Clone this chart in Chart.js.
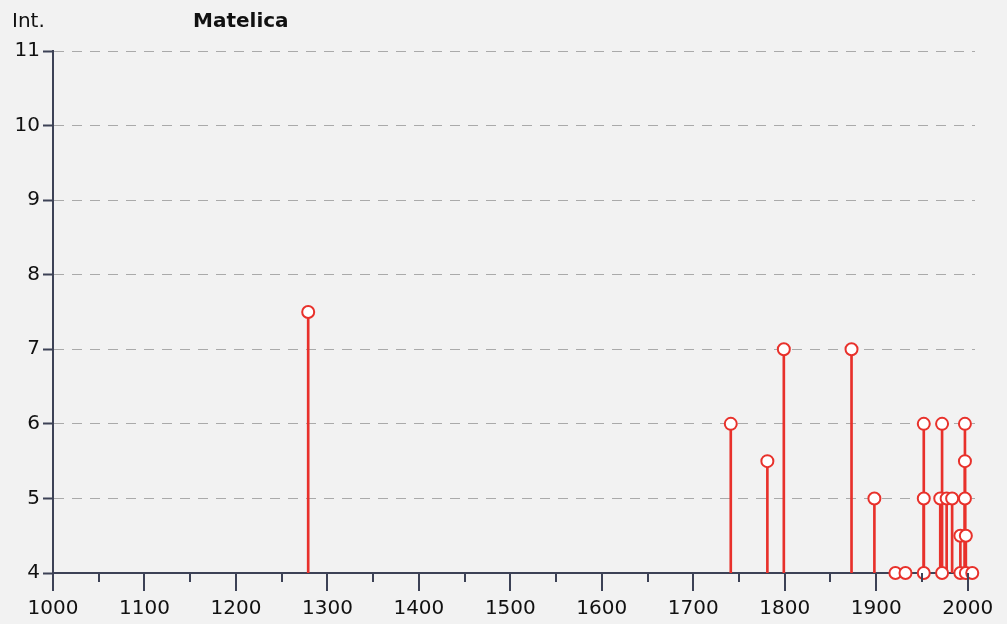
<!DOCTYPE html>
<html>
<head>
<meta charset="utf-8">
<script src="https://cdn.jsdelivr.net/npm/chart.js@4.4.1/dist/chart.umd.min.js"></script>
<style>
    html, body { margin: 0; padding: 0; background: #f2f2f2; }
    #wrap { width: 1007px; height: 624px; }
</style>
</head>
<body>
<div id="wrap"><canvas id="chart" width="1007" height="624"></canvas></div>
<script>
// Data
const years = [1279, 1741, 1781, 1799, 1873, 1898, 1921, 1932, 1952, 1952, 1952, 1970, 1972, 1972, 1977, 1983, 1992, 1992, 1997, 1997, 1997, 1998, 1998, 2005];
const intensity = [7.5, 6, 5.5, 7, 7, 5, 4, 4, 6, 5, 4, 5, 6, 4, 5, 5, 4.5, 4, 6, 5.5, 5, 4.5, 4, 4];
const yTicks = [4, 5, 6, 7, 8, 9, 10, 11];
const xTickStep = 50;
const chartTitle = 'Matelica';
const yTitle = 'Int.';

const RED = '#e8312b';
const AXIS = '#3d4256';
const FONT = "'DejaVu Sans', Verdana, sans-serif";

const points = years.map((y, i) => ({ x: y, y: intensity[i] }));
const stems = years.map((y, i) => ({ x: y, y: [yTicks[0], intensity[i]] }));

// Title text and x tick marks (short at 50, long at 100)
const extras = {
    id: 'extras',
    afterDraw(chart) {
        const ctx = chart.ctx;
        const xs = chart.scales.x;
        const bottom = chart.chartArea.bottom;
        ctx.save();
        ctx.strokeStyle = AXIS;
        ctx.lineWidth = 2;
        for (let v = 1000; v <= 2000; v += xTickStep) {
            const px = Math.round(xs.getPixelForValue(v));
            ctx.beginPath();
            ctx.moveTo(px, bottom);
            ctx.lineTo(px, bottom + (v % 100 === 0 ? 18 : 9));
            ctx.stroke();
        }
        ctx.fillStyle = '#111';
        ctx.textBaseline = 'middle';
        ctx.font = '20px ' + FONT;
        ctx.fillText(yTitle, 12, 22);
        ctx.font = 'bold 20px ' + FONT;
        ctx.fillText(chartTitle, 193, 22);
        ctx.restore();
    }
};

new Chart(document.getElementById('chart'), {
    data: {
        datasets: [
            {
                type: 'scatter',
                data: points,
                pointRadius: 6,
                pointBorderWidth: 2,
                pointBackgroundColor: '#ffffff',
                pointBorderColor: RED,
                order: 0,
                clip: false
            },
            {
                type: 'bar',
                data: stems,
                backgroundColor: RED,
                barThickness: 2,
                order: 1
            }
        ]
    },
    options: {
        responsive: false,
        animation: false,
        layout: { padding: { top: 51, right: 32, left: 0, bottom: 0 } },
        plugins: { legend: { display: false }, tooltip: { enabled: false } },
        scales: {
            x: {
                type: 'linear',
                min: 1000,
                max: 2008,
                offset: false,
                afterFit(scale) {
                    scale.height = 51;
                    scale.paddingLeft = 0;
                    scale.paddingRight = 0;
                },
                afterBuildTicks(scale) {
                    const t = [];
                    for (let v = 1000; v <= 2000; v += 100) t.push({ value: v });
                    scale.ticks = t;
                },
                grid: { drawOnChartArea: false, drawTicks: false, offset: false },
                border: { color: AXIS, width: 2 },
                ticks: {
                    color: '#111',
                    font: { family: FONT, size: 20 },
                    padding: 24,
                    maxRotation: 0,
                    autoSkip: false,
                    callback: v => String(v)
                }
            },
            y: {
                min: 4,
                max: 11,
                afterFit(scale) {
                    scale.width = 53;
                    scale.paddingTop = 0;
                    scale.paddingBottom = 0;
                },
                afterBuildTicks(scale) { scale.ticks = yTicks.map(v => ({ value: v })); },
                grid: {
                    color: '#aaaaaa',
                    lineWidth: 1,
                    tickLength: 10,
                    tickColor: AXIS,
                    tickWidth: 2
                },
                border: { color: AXIS, width: 2, dash: [10, 8] },
                ticks: {
                    color: '#111',
                    font: { family: FONT, size: 20 },
                    padding: 3
                }
            }
        }
    },
    plugins: [extras]
});
</script>
</body>
</html>
